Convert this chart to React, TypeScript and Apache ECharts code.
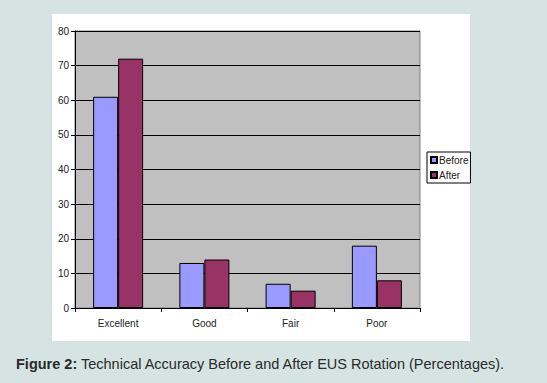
import React, { useEffect, useRef } from "react";
import * as echarts from "echarts";

const categories = ["Excellent", "Good", "Fair", "Poor"];
const beforeValues = [61, 13, 7, 18];
const afterValues = [72, 14, 5, 8];
const seriesNames = ["Before", "After"];

export default function App() {
  const ref = useRef<HTMLDivElement>(null);
  useEffect(() => {
    document.body.style.margin = "0";
    const chart = echarts.init(ref.current!, null, { renderer: "svg" });
    chart.setOption({
      animation: false,
      backgroundColor: "#d5e3e3",
      textStyle: { fontFamily: "Liberation Sans, Arial, sans-serif" },
      graphic: [
        {
          type: "rect",
          z: -10,
          shape: { x: 52, y: 14, width: 418, height: 327 },
          style: { fill: "#ffffff" },
          silent: true,
        },
      ],
      title: {
        text: "{b|Figure 2:} Technical Accuracy Before and After EUS Rotation (Percentages).",
        left: 16,
        top: 356,
        padding: 0,
        textStyle: {
          fontSize: 14.5,
          fontWeight: "normal",
          color: "#2a2a2a",
          fontFamily: "Liberation Sans, Arial, sans-serif",
          rich: {
            b: {
              fontSize: 14.5,
              fontWeight: "bold",
              color: "#2a2a2a",
              fontFamily: "Liberation Sans, Arial, sans-serif",
            },
          },
        },
      },
      legend: {
        orient: "vertical",
        left: 427,
        top: 152,
        padding: [3, 2, 3, 3],
        itemGap: 5,
        itemWidth: 6,
        itemHeight: 6,
        backgroundColor: "#ffffff",
        borderColor: "#000000",
        borderWidth: 1,
        borderRadius: 0,
        icon: "rect",
        data: seriesNames,
        textStyle: {
          fontSize: 10,
          color: "#222",
          padding: [0, 0, 0, -3],
          fontFamily: "Liberation Sans Narrow, Arial Narrow, Liberation Sans, Arial, sans-serif",
        },
      },
      grid: {
        left: 75,
        right: 127,
        top: 31,
        bottom: 75,
        show: true,
        backgroundColor: "#c0c0c0",
        borderColor: "#808080",
        borderWidth: 1,
      },
      xAxis: {
        type: "category",
        data: categories,
        axisLine: { show: true, lineStyle: { color: "#000", width: 1 } },
        axisTick: { show: true, length: 4, alignWithLabel: false, lineStyle: { color: "#000" } },
        axisLabel: { fontSize: 10, color: "#222", margin: 10 },
        splitLine: { show: false },
      },
      yAxis: {
        type: "value",
        min: 0,
        max: 80,
        interval: 10,
        axisLine: { show: true, lineStyle: { color: "#000", width: 1 } },
        axisTick: { show: true, length: 4, inside: false, lineStyle: { color: "#000" } },
        axisLabel: { fontSize: 10, color: "#222", margin: 6 },
        splitLine: { show: true, lineStyle: { color: "#000", width: 1 } },
      },
      series: [
        {
          name: seriesNames[0],
          type: "bar",
          data: beforeValues,
          barGap: "0%",
          barCategoryGap: "42%",
          itemStyle: { color: "#9999ff", borderColor: "#000", borderWidth: 1 },
        },
        {
          name: seriesNames[1],
          type: "bar",
          data: afterValues,
          barGap: "0%",
          barCategoryGap: "42%",
          itemStyle: { color: "#993366", borderColor: "#000", borderWidth: 1 },
        },
      ],
    });
    return () => chart.dispose();
  }, []);
  return <div ref={ref} style={{ width: 547, height: 383 }} />;
}
